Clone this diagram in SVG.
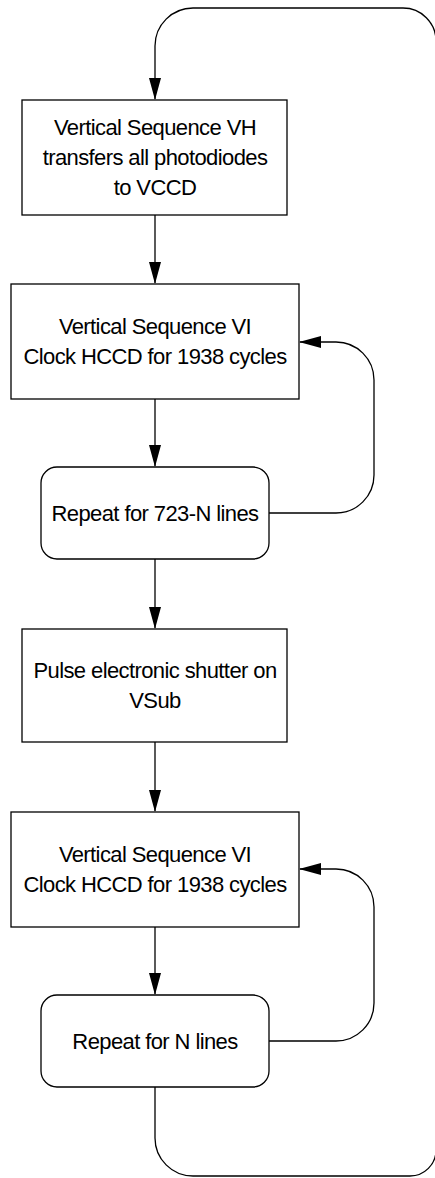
<svg xmlns="http://www.w3.org/2000/svg" width="435" height="1178" viewBox="0 0 435 1178">
<defs>
<style>
.box{fill:#fff;stroke:#000;stroke-width:1.3}
.t{font-family:"Liberation Sans",Arial,sans-serif;font-size:22px;fill:#000;text-anchor:middle;letter-spacing:-0.6px}
.c{fill:none;stroke:#000;stroke-width:1.3}
</style>
<marker id="ah" markerUnits="userSpaceOnUse" markerWidth="22" markerHeight="12" refX="21" refY="6" orient="auto" viewBox="0 0 22 12">
<path d="M0,0 L22,6 L0,12 Z" fill="#000"/>
</marker>
</defs>
<g id="connectors">
<path class="c" d="M155,215 V283" marker-end="url(#ah)"/>
<path class="c" d="M155,399 V466" marker-end="url(#ah)"/>
<path class="c" d="M155,559 V628" marker-end="url(#ah)"/>
<path class="c" d="M155,742 V811" marker-end="url(#ah)"/>
<path class="c" d="M155,927 V994" marker-end="url(#ah)"/>
<path class="c" d="M269,513 H336 A38,38 0 0 0 374,475 V380 A38,38 0 0 0 336,342 H300" marker-end="url(#ah)"/>
<path class="c" d="M269,1041 H336 A38,38 0 0 0 374,1003 V907 A38,38 0 0 0 336,869 H300" marker-end="url(#ah)"/>
<path class="c" d="M155,1087 V1138 A38,38 0 0 0 193,1176 H410 A26,26 0 0 0 436,1150 V41 A33,33 0 0 0 403,8 H193 A38,38 0 0 0 155,46 V99" marker-end="url(#ah)"/>
</g>
<g id="n1">
<rect class="box" x="22" y="100" width="265" height="115"/>
<text class="t" x="155" y="135">Vertical Sequence VH</text>
<text class="t" x="155" y="165">transfers all photodiodes</text>
<text class="t" x="155" y="195">to VCCD</text>
</g>
<g id="n2">
<rect class="box" x="11" y="284" width="288" height="115"/>
<text class="t" x="155" y="334">Vertical Sequence VI</text>
<text class="t" x="155" y="364">Clock HCCD for 1938 cycles</text>
</g>
<g id="n3">
<rect class="box" x="41" y="467" width="228" height="92" rx="16" ry="16"/>
<text class="t" x="155" y="520.5">Repeat for 723-N lines</text>
</g>
<g id="n4">
<rect class="box" x="22" y="629" width="265" height="113"/>
<text class="t" x="155" y="678">Pulse electronic shutter on</text>
<text class="t" x="155" y="708">VSub</text>
</g>
<g id="n5">
<rect class="box" x="11" y="812" width="288" height="115"/>
<text class="t" x="155" y="862">Vertical Sequence VI</text>
<text class="t" x="155" y="892">Clock HCCD for 1938 cycles</text>
</g>
<g id="n6">
<rect class="box" x="41" y="995" width="228" height="92" rx="16" ry="16"/>
<text class="t" x="155" y="1048.5">Repeat for N lines</text>
</g>
</svg>
